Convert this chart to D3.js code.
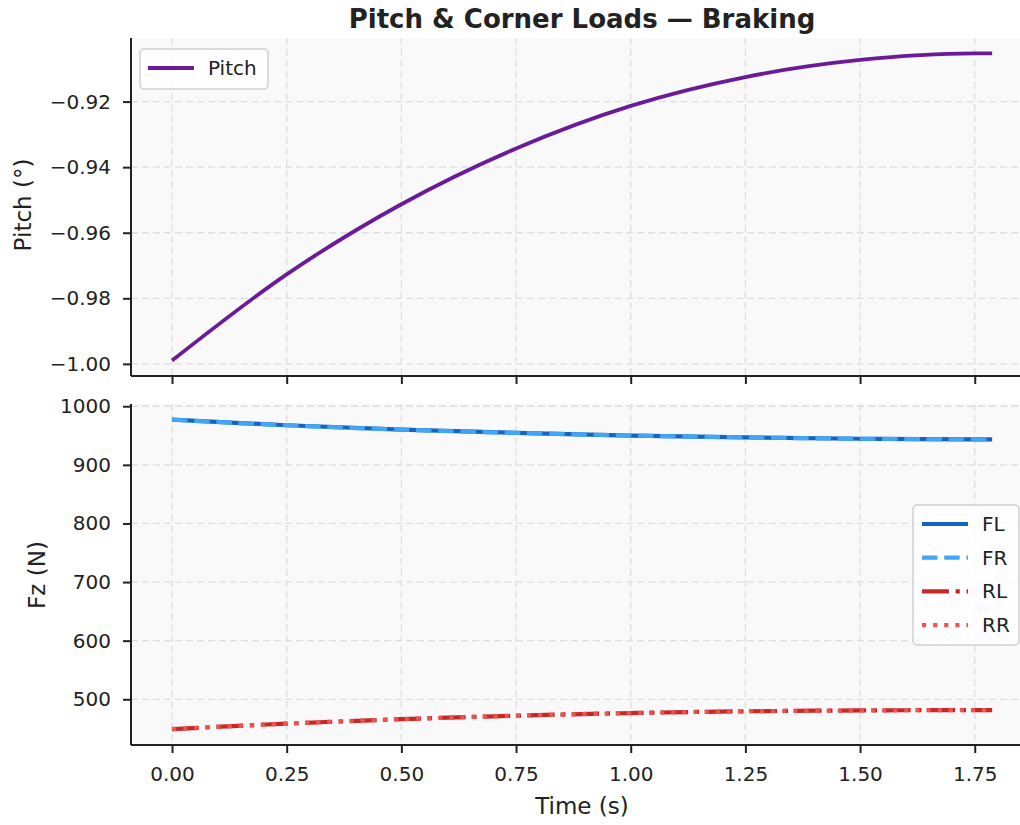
<!DOCTYPE html>
<html>
<head>
<meta charset="utf-8">
<script src="https://cdn.jsdelivr.net/npm/d3@7"></script>
<style>
  body { margin: 0; background: #fff; }
  text { font-family: "DejaVu Sans", sans-serif; fill: #222; }
  .grid line { stroke: #dedede; stroke-dasharray: 7,4; stroke-width: 1.3; }
  .axis path, .axis line { stroke: #222; }
</style>
</head>
<body>
<div id="chart"></div>
<script>
// time samples (s)
var time = [0, 0.25, 0.5, 0.75, 1.0, 1.25, 1.5, 1.75, 1.788];
// pitch (deg)
var pitch = [-0.999, -0.9727, -0.9513, -0.9343, -0.9213, -0.9125, -0.9073, -0.9053, -0.9053];
// corner loads (N)
var fl = [977, 967.5, 960, 954.5, 950, 946.8, 944.5, 943.5, 943.5];
var fr = fl.slice();
var rl = [449, 458.5, 466, 472, 476.5, 479.5, 481, 481.5, 481.5];
var rr = rl.slice();

var pitchTicks = [-1.00, -0.98, -0.96, -0.94, -0.92];
var fzTicks = [500, 600, 700, 800, 900, 1000];
var timeTicks = [0, 0.25, 0.5, 0.75, 1.0, 1.25, 1.5, 1.75];

var series = [
  { name: "FL", values: fl, color: "#1565C0", dash: null, width: 4.2 },
  { name: "FR", values: fr, color: "#42A5F5", dash: "15.5,6.7", width: 4.2 },
  { name: "RL", values: rl, color: "#C62828", dash: "26.9,6.7,4.2,6.7", width: 4.2 },
  { name: "RR", values: rr, color: "#EF5350", dash: "4.2,6.9", width: 4.2 }
];

var W = 1020, H = 825;
var left = 131, right = 1033;

var svg = d3.select("#chart").append("svg")
    .attr("width", W)
    .attr("height", H);

var x = d3.scaleLinear().domain([-0.0894, 1.877]).range([left, right]);

var yPitch = d3.scaleLinear().domain([-1.0037, -0.9006]).range([376, 38]);
var yFz = d3.scaleLinear().domain([422, 1003.8]).range([745, 404]);

function panel(y, top, bottom, yticks, fmt, showX) {
  var g = svg.append("g");

  g.append("rect")
      .attr("x", left).attr("y", top)
      .attr("width", right - left).attr("height", bottom - top)
      .style("fill", "#f9f9f9");

  var grid = g.append("g").attr("class", "grid");
  grid.selectAll(".vx").data(timeTicks).enter().append("line")
      .attr("x1", function(d) { return x(d); })
      .attr("x2", function(d) { return x(d); })
      .attr("y1", top).attr("y2", bottom);
  grid.selectAll(".hy").data(yticks).enter().append("line")
      .attr("x1", left).attr("x2", right)
      .attr("y1", function(d) { return y(d); })
      .attr("y2", function(d) { return y(d); });

  var yAxis = g.append("g")
      .attr("class", "axis")
      .attr("transform", "translate(" + left + ",0)")
      .call(d3.axisLeft(y).tickValues(yticks).tickFormat(fmt).tickSizeOuter(0).tickSize(8).tickPadding(12));
  yAxis.select(".domain").attr("d", "M0," + top + "V" + bottom).style("stroke-width", 2);
  yAxis.selectAll(".tick line").style("stroke-width", 2);
  yAxis.selectAll(".tick text").style("font-size", "20px");

  var xAxis = g.append("g")
      .attr("class", "axis")
      .attr("transform", "translate(0," + bottom + ")")
      .call(d3.axisBottom(x).tickValues(timeTicks).tickFormat(showX ? d3.format(".2f") : "").tickSizeOuter(0).tickSize(8).tickPadding(14));
  xAxis.select(".domain").attr("d", "M" + left + ",0H" + right).style("stroke-width", 2);
  xAxis.selectAll(".tick line").style("stroke-width", 2);
  xAxis.selectAll(".tick text").style("font-size", "20px");
  return g;
}

// top panel: pitch
var gTop = panel(yPitch, 38, 376, pitchTicks, d3.format(".2f"), false);

var pitchLine = d3.line()
    .x(function(d, i) { return x(time[i]); })
    .y(function(d) { return yPitch(d); })
    .curve(d3.curveMonotoneX);

gTop.append("path")
    .datum(pitch)
    .attr("d", pitchLine)
    .style("fill", "none")
    .style("stroke", "#6A1B9A")
    .style("stroke-width", 3.8);

// legend top
var lgTop = gTop.append("g").attr("transform", "translate(140,49)");
lgTop.append("rect")
    .attr("width", 128).attr("height", 40).attr("rx", 4)
    .style("fill", "#fff").style("fill-opacity", 0.85)
    .style("stroke", "#d0d0d0").style("stroke-width", 1.5);
lgTop.append("line")
    .attr("x1", 8).attr("x2", 54).attr("y1", 19).attr("y2", 19)
    .style("stroke", "#6A1B9A").style("stroke-width", 3.8);
lgTop.append("text")
    .attr("x", 68).attr("y", 19).attr("dy", "0.35em")
    .style("font-size", "20px")
    .text("Pitch");

// bottom panel: corner loads
var gBot = panel(yFz, 404, 745, fzTicks, d3.format("d"), true);

var fzLine = d3.line()
    .x(function(d, i) { return x(time[i]); })
    .y(function(d) { return yFz(d); })
    .curve(d3.curveMonotoneX);

gBot.selectAll(".fz")
    .data(series)
    .enter().append("path")
      .attr("class", "fz")
      .attr("d", function(d) { return fzLine(d.values); })
      .style("fill", "none")
      .style("stroke", function(d) { return d.color; })
      .style("stroke-width", function(d) { return d.width; })
      .style("stroke-dasharray", function(d) { return d.dash; });

var lgBot = gBot.append("g").attr("transform", "translate(913,505)");
lgBot.append("rect")
    .attr("width", 106).attr("height", 140).attr("rx", 4)
    .style("fill", "#fff").style("fill-opacity", 0.85)
    .style("stroke", "#d0d0d0").style("stroke-width", 1.5);
var items = lgBot.selectAll(".item")
    .data(series)
    .enter().append("g")
      .attr("transform", function(d, i) { return "translate(0," + (19 + i * 33.7) + ")"; });
items.append("line")
    .attr("x1", 9).attr("x2", 55)
    .style("stroke", function(d) { return d.color; })
    .style("stroke-width", function(d) { return d.width; })
    .style("stroke-dasharray", function(d) { return d.dash; });
items.append("text")
    .attr("x", 69).attr("dy", "0.35em")
    .style("font-size", "20px")
    .text(function(d) { return d.name; });

// labels
svg.append("text")
    .attr("x", (left + right) / 2).attr("y", 28)
    .attr("text-anchor", "middle")
    .style("font-size", "26px").style("font-weight", "bold")
    .text("Pitch & Corner Loads — Braking");

svg.append("text")
    .attr("transform", "translate(31,205) rotate(-90)")
    .attr("text-anchor", "middle")
    .style("font-size", "23px")
    .text("Pitch (°)");

svg.append("text")
    .attr("transform", "translate(45,575) rotate(-90)")
    .attr("text-anchor", "middle")
    .style("font-size", "23px")
    .text("Fz (N)");

svg.append("text")
    .attr("x", (left + right) / 2).attr("y", 814)
    .attr("text-anchor", "middle")
    .style("font-size", "23px")
    .text("Time (s)");
</script>
</body>
</html>
